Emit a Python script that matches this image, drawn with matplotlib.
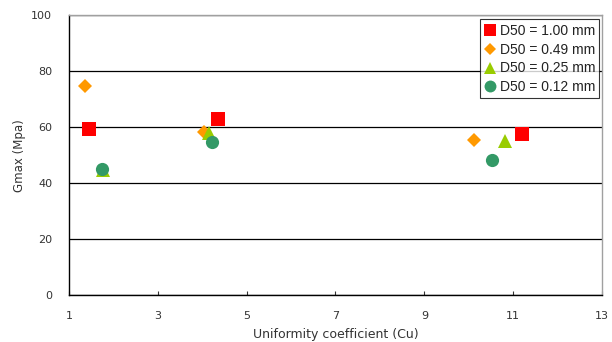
import matplotlib
matplotlib.use("Agg")
import matplotlib.pyplot as plt

labels = ["D50 = 1.00 mm", "D50 = 0.49 mm", "D50 = 0.25 mm", "D50 = 0.12 mm"]
cu_100 = [1.46, 4.36, 11.20]
g_100 = [59.5, 62.9, 57.6]
cu_049 = [1.37, 4.04, 10.12]
g_049 = [74.9, 58.4, 55.5]
cu_025 = [1.77, 4.15, 10.82]
g_025 = [44.8, 58.0, 55.2]
cu_012 = [1.74, 4.21, 10.52]
g_012 = [45.1, 54.9, 48.3]
xticks = [1, 3, 5, 7, 9, 11, 13]
yticks = [0, 20, 40, 60, 80, 100]

plt.rcParams['font.family'] = ['DejaVu Sans']

fig = plt.figure(figsize=(6.12, 3.42), dpi=100)
ax = fig.add_axes([0.1127, 0.1365, 0.8710, 0.8188])

series = [
    (cu_100, g_100, 's', '#FF0000', 9.5),
    (cu_049, g_049, 'D', '#FF9900', 7.0),
    (cu_025, g_025, '^', '#99CC00', 9.5),
    (cu_012, g_012, 'o', '#339966', 9.5),
]
for (x, y, m, c, s), lab in zip(series, labels):
    ax.plot(x, y, linestyle='none', marker=m, color=c, markersize=s,
            markeredgewidth=0, label=lab, zorder=3)

ax.set_xlim(1, 13)
ax.set_ylim(0, 100)
ax.set_xticks(xticks)
ax.set_yticks(yticks)
ax.yaxis.grid(True, color='black', linewidth=0.9)
ax.set_axisbelow(True)

for side in ['top', 'right']:
    ax.spines[side].set_color('#A0A0A0')
    ax.spines[side].set_linewidth(1.0)
for side in ['left', 'bottom']:
    ax.spines[side].set_color('black')
    ax.spines[side].set_linewidth(1.0)

ax.tick_params(axis='x', direction='in', length=3, width=0.8, labelsize=8,
               colors='#333333', pad=11)
ax.tick_params(axis='y', direction='in', length=0, labelsize=8,
               colors='#333333', pad=12)

ax.set_xlabel('Uniformity coefficient (Cu)', fontsize=9, color='#333333',
              labelpad=5)
ax.set_ylabel('Gmax (Mpa)', fontsize=8.5, color='#333333', labelpad=4)

leg = ax.legend(loc='upper right', bbox_to_anchor=(0.995, 0.985),
                prop={'family': 'Liberation Sans', 'size': 10},
                frameon=True, fancybox=False, handlelength=0.9,
                handletextpad=0.25, borderpad=0.3, labelspacing=0.35,
                borderaxespad=0.0, markerscale=0.9)
leg.get_frame().set_edgecolor('black')
leg.get_frame().set_linewidth(0.8)
for t in leg.get_texts():
    t.set_color('#222222')

fig.savefig('out.png', dpi=100)
